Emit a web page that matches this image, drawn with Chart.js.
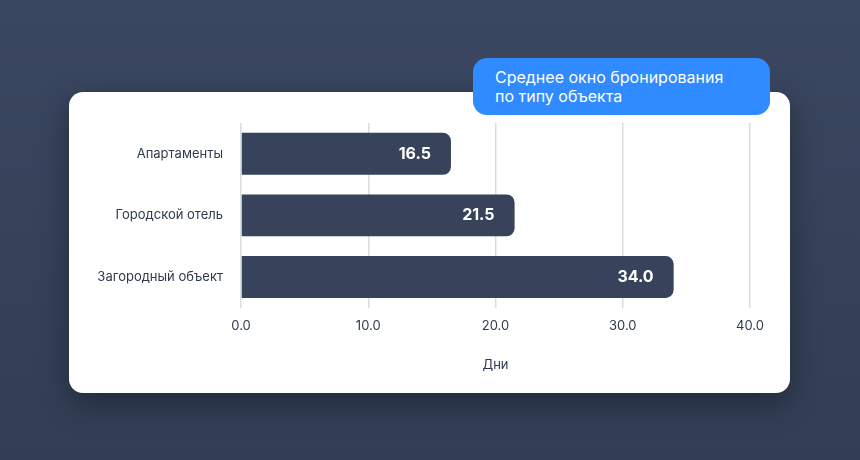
<!DOCTYPE html>
<html>
<head>
<meta charset="utf-8">
<script src="https://cdn.jsdelivr.net/npm/chart.js@4"></script>
<style>
  body { margin: 0; width: 860px; height: 460px; background: linear-gradient(180deg, #3a4760, #323e55); font-family: Inter, sans-serif; position: relative; overflow: hidden; }
  #card { position: absolute; left: 69px; top: 92px; width: 721px; height: 301px; background: #fff; border-radius: 14px; box-shadow: 0 10px 30px rgba(0,0,0,0.35); }
  #badge { position: absolute; left: 473px; top: 58px; width: 297px; height: 57px; background: #2f8bff; border-radius: 14px; color: #fff; font-size: 16px; line-height: 19px; box-sizing: border-box; padding: 10px 0 0 22px; }
</style>
</head>
<body>
<div id="card"><canvas id="chart" width="721" height="301"></canvas></div>
<div id="badge">Среднее окно бронирования<br>по типу объекта</div>
<script>
// Data
const categories = ['Апартаменты', 'Городской отель', 'Загородный объект'];
const days = [16.5, 21.5, 34.0];
const xTicks = [0, 10, 20, 30, 40];

const barColor = '#36435a';

// Value labels drawn at the bar ends
const valueLabels = {
    id: 'valueLabels',
    afterDatasetsDraw(chart) {
        const ctx = chart.ctx;
        const meta = chart.getDatasetMeta(0);
        ctx.save();
        ctx.fillStyle = '#fff';
        ctx.font = 'bold 16px Inter, sans-serif';
        ctx.textAlign = 'right';
        ctx.textBaseline = 'middle';
        meta.data.forEach((bar, i) => {
            ctx.fillText(days[i].toFixed(1), bar.x - 20, bar.y);
        });
        ctx.restore();
    }
};

new Chart(document.getElementById('chart'), {
    type: 'bar',
    data: {
        labels: categories,
        datasets: [{
            data: days,
            backgroundColor: barColor,
            borderRadius: 8,
            borderSkipped: 'start',
            categoryPercentage: 0.68,
            barPercentage: 1
        }]
    },
    options: {
        indexAxis: 'y',
        responsive: false,
        animation: false,
        layout: { padding: { top: 31, right: 40, bottom: 16, left: 0 } },
        plugins: { legend: { display: false }, tooltip: { enabled: false } },
        scales: {
            x: {
                min: xTicks[0],
                max: xTicks[xTicks.length - 1],
                afterBuildTicks: axis => { axis.ticks = xTicks.map(v => ({ value: v })); },
                ticks: { callback: v => v.toFixed(1), color: '#2f3a4d', font: { size: 13, family: 'Inter' }, padding: 10 },
                grid: { color: '#d9dde3', lineWidth: 1.5, drawTicks: false },
                border: { display: false },
                title: { display: true, text: 'Дни', color: '#2f3a4d', font: { size: 13, family: 'Inter' }, padding: { top: 14 } }
            },
            y: {
                afterFit: axis => { axis.width = 172; },
                ticks: { color: '#2f3a4d', font: { size: 13, family: 'Inter' }, padding: 10 },
                grid: { display: false },
                border: { display: false }
            }
        }
    },
    plugins: [valueLabels]
});
</script>
</body>
</html>
